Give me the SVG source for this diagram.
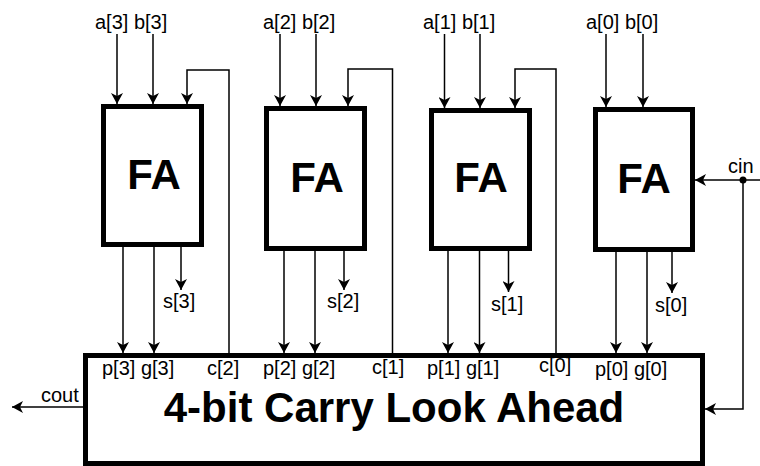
<svg xmlns="http://www.w3.org/2000/svg" width="760" height="466" viewBox="0 0 760 466">
<style>
.box{fill:#fff;stroke:#000;stroke-width:5}
.w{fill:none;stroke:#000;stroke-width:1.5}
.a{marker-end:url(#arr)}
.lbl{font-family:"Liberation Sans",Arial,sans-serif;font-size:20px;fill:#000}
.big{font-family:"Liberation Sans",Arial,sans-serif;font-weight:bold;font-size:42px;fill:#000;text-anchor:middle}
</style>
<defs>
<marker id="arr" markerUnits="userSpaceOnUse" markerWidth="11" markerHeight="12" viewBox="0 0 11 12" refX="11" refY="6" orient="auto">
<path d="M0,0 L11,6 L0,12 L3,6 z" fill="#000"/>
</marker>
</defs>
<rect width="760" height="466" fill="#fff"/>
<g id="connectors">
<path class="w a" d="M117,34 V104"/>
<path class="w a" d="M153,34 V104"/>
<path class="w a" d="M229,353 V70 H187 V104"/>
<path class="w a" d="M280,34 V106"/>
<path class="w a" d="M316,34 V106"/>
<path class="w a" d="M392.5,353 V69 H348 V106"/>
<path class="w a" d="M444.5,34 V108"/>
<path class="w a" d="M480,34 V108"/>
<path class="w a" d="M556,353 V69 H515 V108"/>
<path class="w a" d="M606,34 V107"/>
<path class="w a" d="M643,34 V107"/>
<path class="w a" d="M760,180 H695"/>
<path class="w a" d="M743,180 V409 H705"/>
<circle cx="743" cy="180" r="3.5" fill="#000"/>
<path class="w a" d="M83,407 H12"/>
<path class="w a" d="M123,247 V353"/>
<path class="w a" d="M154,247 V353"/>
<path class="w a" d="M181,247 V290"/>
<path class="w a" d="M284,251 V353"/>
<path class="w a" d="M315,251 V353"/>
<path class="w a" d="M344,251 V290"/>
<path class="w a" d="M448,251 V353"/>
<path class="w a" d="M479.5,251 V353"/>
<path class="w a" d="M508.5,251 V292"/>
<path class="w a" d="M616,252 V353"/>
<path class="w a" d="M647,252 V353"/>
<path class="w a" d="M672,252 V293"/>
</g>
<g id="fa3"><rect class="box" x="103.5" y="106.5" width="98" height="138"/><text class="big" x="154" y="189">FA</text></g>
<g id="fa2"><rect class="box" x="266.5" y="108.5" width="98" height="140"/><text class="big" x="317" y="192">FA</text></g>
<g id="fa1"><rect class="box" x="431.5" y="110.5" width="98" height="138"/><text class="big" x="481" y="192">FA</text></g>
<g id="fa0"><rect class="box" x="595.5" y="109.5" width="97" height="140"/><text class="big" x="644" y="193">FA</text></g>
<g id="cla"><rect class="box" x="85.5" y="355.5" width="617" height="108"/><text class="big" x="394" y="422">4-bit Carry Look Ahead</text></g>
<g id="labels">
<text class="lbl" x="95" y="29">a[3] b[3]</text>
<text class="lbl" x="263" y="29">a[2] b[2]</text>
<text class="lbl" x="423" y="29">a[1] b[1]</text>
<text class="lbl" x="586" y="29">a[0] b[0]</text>
<text class="lbl" x="163" y="308">s[3]</text>
<text class="lbl" x="327" y="308">s[2]</text>
<text class="lbl" x="491" y="311">s[1]</text>
<text class="lbl" x="655" y="312">s[0]</text>
<text class="lbl" x="102" y="375">p[3] g[3]</text>
<text class="lbl" x="207" y="375">c[2]</text>
<text class="lbl" x="263" y="375">p[2] g[2]</text>
<text class="lbl" x="372" y="374">c[1]</text>
<text class="lbl" x="427" y="375">p[1] g[1]</text>
<text class="lbl" x="539" y="372">c[0]</text>
<text class="lbl" x="595" y="376">p[0] g[0]</text>
<text class="lbl" x="41" y="402">cout</text>
<text class="lbl" x="728" y="173">cin</text>
</g>
</svg>
